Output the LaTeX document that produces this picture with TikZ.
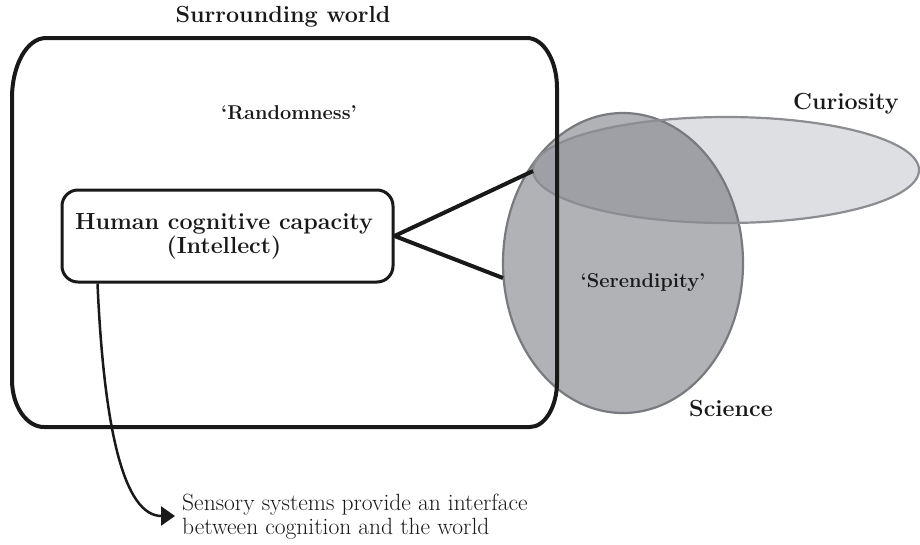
\documentclass[tikz,border=0pt]{standalone}
\usetikzlibrary{shapes.geometric,arrows.meta}
\definecolor{curfill}{RGB}{222,223,227}
\definecolor{curline}{RGB}{140,141,146}
\definecolor{sciline}{RGB}{120,122,128}
\definecolor{scifill}{RGB}{88,90,98}
\definecolor{ink}{RGB}{25,25,25}
\begin{document}
\begin{tikzpicture}[x=1pt,y=-1pt,
  lbl/.style={font=\fontsize{23.3}{24}\selectfont\bfseries, inner sep=0pt, text=ink},
  quoted/.style={font=\fontsize{20}{24}\selectfont\bfseries, inner sep=0pt, text=ink},
  note/.style={font=\fontsize{23.5}{24}\selectfont, inner sep=0pt, align=left, text=ink},
  worldline/.style={line width=4pt, draw=ink},
  link/.style={line width=4pt, draw=ink},
  blob/.style={ellipse, inner sep=0pt, outer sep=0pt}]
\useasboundingbox (0,0) rectangle (920,544);
% Curiosity ellipse
\node[blob, minimum width=386pt, minimum height=106pt, fill=curfill] (curiosity) at (726,170) {};
% Science ellipse
\node[blob, minimum width=240pt, minimum height=300pt,
      fill=scifill, fill opacity=0.467, draw=sciline, draw opacity=1, line width=2.2pt] (science) at (623,263) {};
% outline of curiosity on top
\node[blob, minimum width=386pt, minimum height=106pt, draw=curline, line width=2.2pt] (curout) at (726,170) {};
% Surrounding world box
\draw[worldline] (46,38) -- (527,38)
  .. controls (543.5,38) and (557,60.5) .. (557,88)
  -- (557,382) .. controls (557,406.75) and (544.85,427) .. (530,427)
  -- (44,427) .. controls (26.4,427) and (12,405.85) .. (12,380)
  -- (12,98) .. controls (12,65) and (27,38) .. (46,38) -- cycle;
% Intellect box
\node[draw=ink, fill=white, line width=3pt, rounded corners=16pt, minimum width=331pt, minimum height=92pt,
      inner sep=0pt] (intellect) at (227.5,236) {};
\node[lbl, align=center] (intellecttext) at (224,236) {Human cognitive capacity\\(Intellect)};
% connectors
\coordinate (sciA) at (533,171);
\coordinate (sciB) at (503,278);
\draw[link] (intellect.east) -- (sciA);
\draw[link] (intellect.east) -- (sciB);
% labels
\node[lbl] (world) at (283,17) {Surrounding world};
\node[quoted] (random) at (289,113) {`Randomness'};
\node[lbl] (curlabel) at (846,104) {Curiosity};
\node[quoted] (seren) at (643,283) {`Serendipity'};
\node[lbl] (scilabel) at (731,408) {Science};
\node[note, anchor=west] (sensory) at (182,517) {Sensory systems provide an interface\\between cognition and the world};
% arrow
\coordinate (tip) at (175,516);
\draw[line width=2.5pt, draw=ink, -{Triangle[length=14pt,width=19pt,fill=ink]}]
  ([xshift=37pt]intellect.south west) .. controls (104,430) and (124,516) .. (tip);
\end{tikzpicture}
\end{document}
